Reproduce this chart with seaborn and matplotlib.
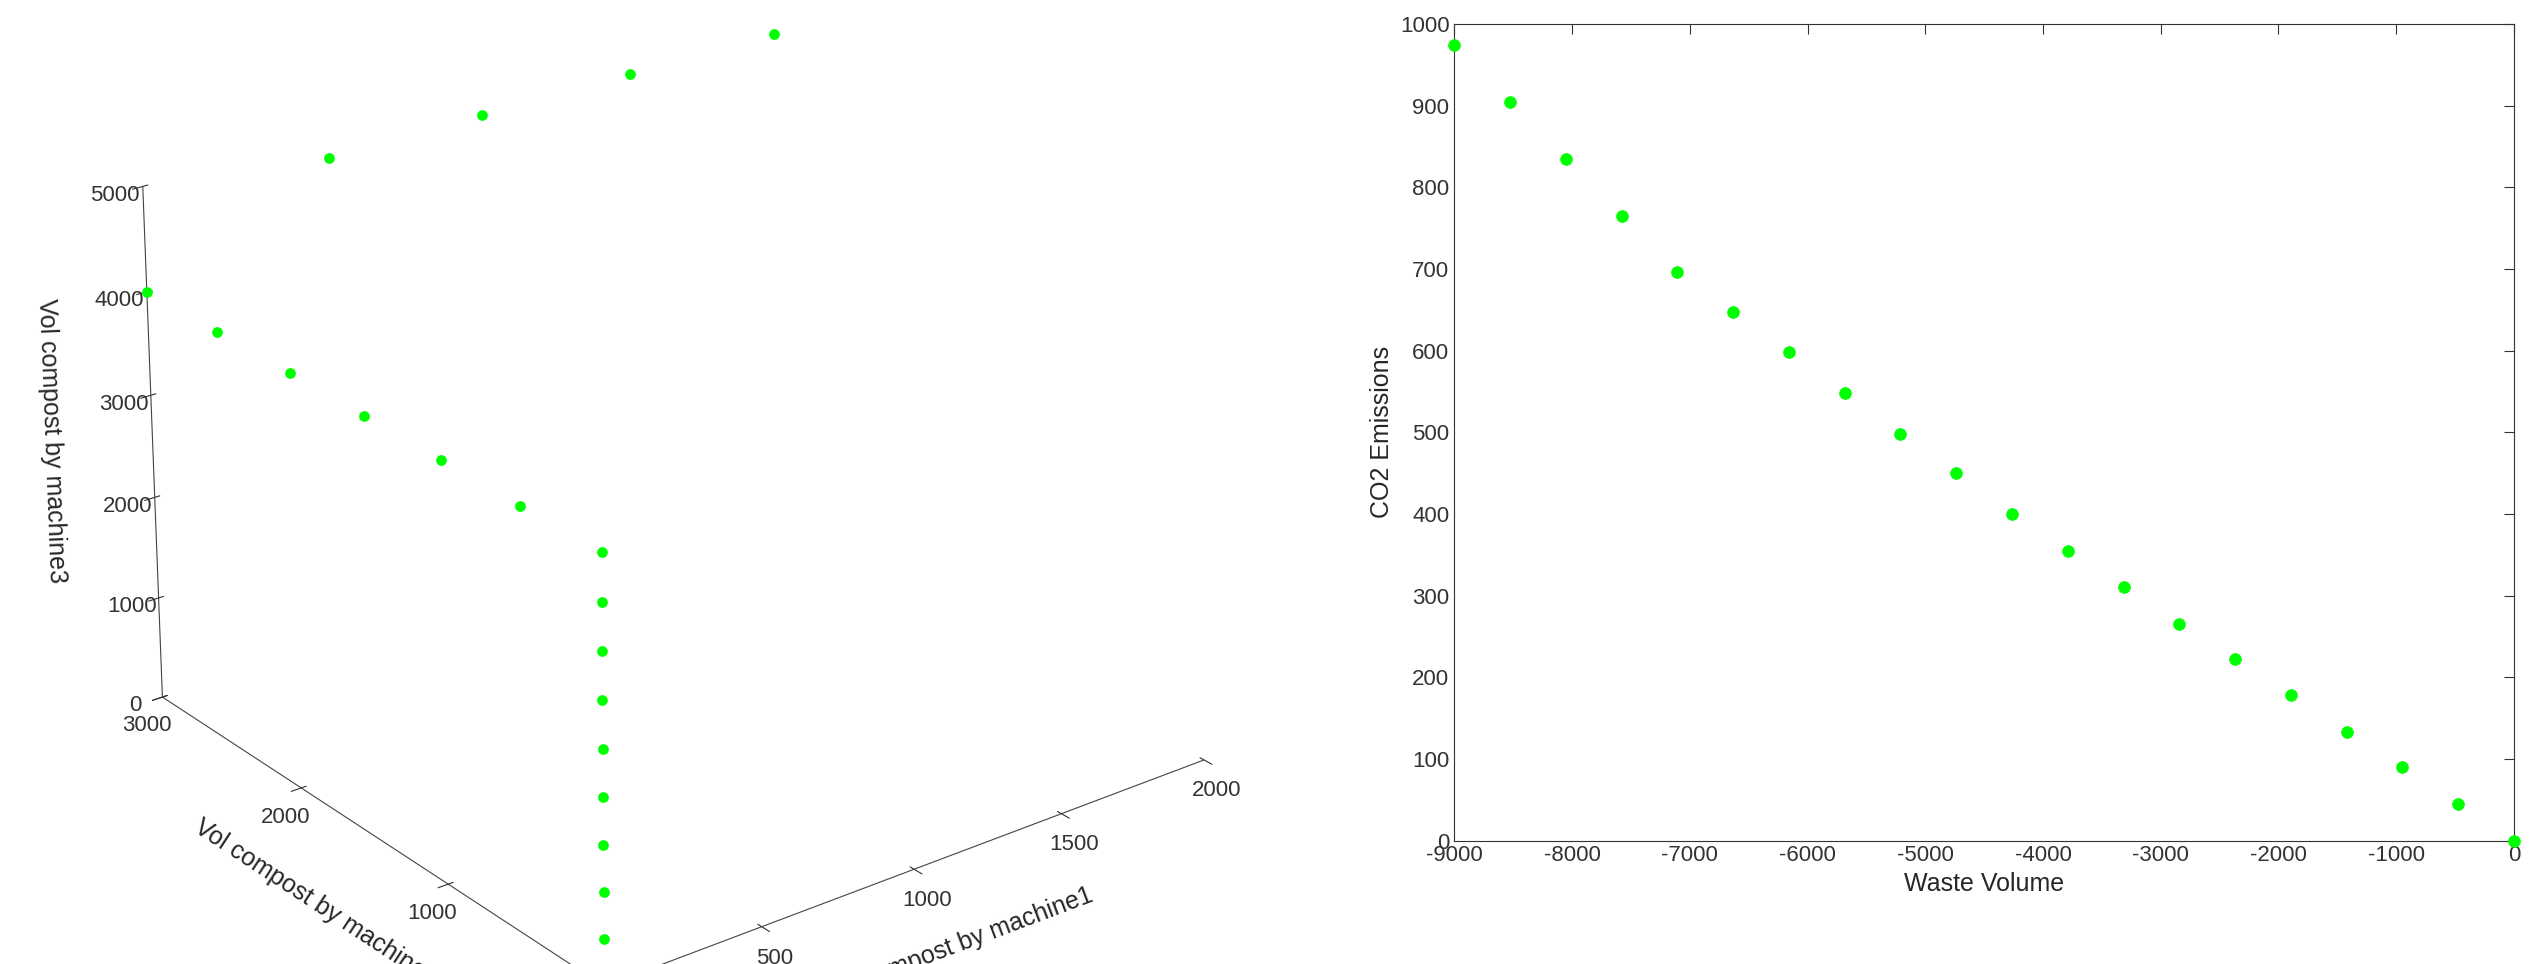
import numpy as np
import pandas as pd
import matplotlib
matplotlib.use("Agg")
import matplotlib.pyplot as plt
import seaborn as sns

# right panel: waste volume vs CO2
waste_volume = [-9000, -8526, -8053, -7579, -7105, -6632, -6158, -5684, -5211, -4737,
                -4263, -3789, -3316, -2842, -2368, -1895, -1421, -947, -474, 0]
co2 = [975, 905, 835, 765, 697, 648, 598, 548, 498, 450,
       400, 355, 310, 265, 222, 178, 133, 90, 45, 0]

# left panel: compost volumes by machine
m1 = [0, 0, 0, 0, 0, 0, 0, 0, 0, 0,
      0, 0, 0, 0, 0, 0,
      500, 1000, 1500, 2000]
m2 = [0, 0, 0, 0, 0, 0, 0, 0, 0, 0,
      500, 1000, 1500, 2000, 2500, 3000,
      2800, 2800, 2800, 2800]
m3 = [0, 444, 889, 1333, 1778, 2222, 2667, 3111, 3556, 4000,
      4000, 4000, 4000, 4000, 4000, 4000,
      5000, 5000, 5000, 5000]

sns.set_style("white")
plt.rcParams['font.family'] = ['Liberation Sans', 'DejaVu Sans']

fig = plt.figure(figsize=(25.47, 9.64), dpi=100)
green = "#00ff00"

ax3 = fig.add_axes([-0.03, -0.12, 0.58, 1.22], projection='3d')
ax3.scatter(m1, m2, m3, color=green, s=45, depthshade=False)
ax3.view_init(elev=25, azim=-127.5)
ax3.set_xlim(0, 2000)
ax3.set_ylim(0, 3000)
ax3.set_zlim(0, 5000)
ax3.set_xticks([0, 500, 1000, 1500, 2000])
ax3.set_yticks([0, 1000, 2000, 3000])
ax3.set_zticks([0, 1000, 2000, 3000, 4000, 5000])
ax3.grid(False)
for a in (ax3.xaxis, ax3.yaxis, ax3.zaxis):
    a.pane.fill = False
    a.pane.set_edgecolor((1, 1, 1, 0))
    a.line.set_color("#444444")
ax3.set_xlabel("Vol compost by machine1", fontsize=18, labelpad=20)
ax3.set_ylabel("Vol compost by machine2", fontsize=18, labelpad=20)
ax3.set_zlabel("Vol compost by machine3", fontsize=18, labelpad=22)
ax3.tick_params(colors="#333333", labelsize=16)

ax = fig.add_axes([0.571, 0.128, 0.416, 0.847])
df = pd.DataFrame({"Waste Volume": waste_volume, "CO2 Emissions": co2})
sns.scatterplot(data=df, x="Waste Volume", y="CO2 Emissions", color=green,
                s=70, edgecolor=green, ax=ax, clip_on=False, zorder=3)
ax.set_xlim(-9000, 0)
ax.set_ylim(0, 1000)
ax.set_xticks(range(-9000, 1, 1000))
ax.set_xticklabels([str(v) for v in range(-9000, 1, 1000)])
ax.set_yticks(range(0, 1001, 100))
for s in ax.spines.values():
    s.set_color("#333333")
    s.set_linewidth(0.8)
ax.tick_params(direction="in", length=7, colors="#333333", labelsize=16,
               top=True, right=True)
ax.set_xlabel("Waste Volume", fontsize=18)
ax.set_ylabel("CO2 Emissions", fontsize=18)

fig.savefig("out.png", dpi=100, facecolor="white")
